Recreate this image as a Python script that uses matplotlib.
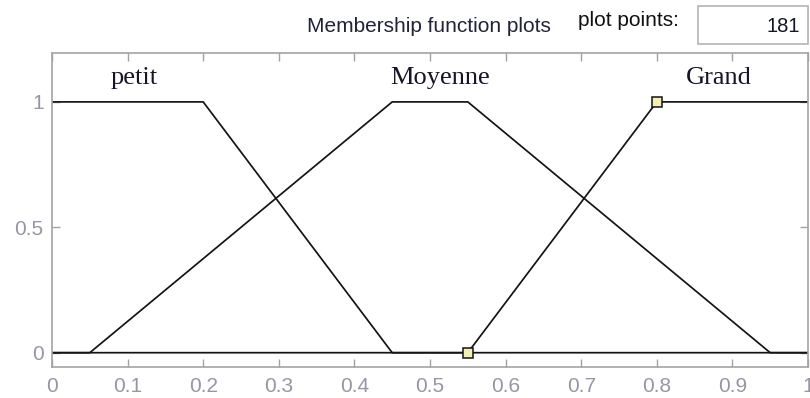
import matplotlib
matplotlib.use("Agg")
import matplotlib.pyplot as plt
from matplotlib.patches import Rectangle

# Membership functions (trapezoid vertices over the [0, 1] universe)
petit_x = [0.0, 0.2, 0.45, 1.0]
petit_y = [1.0, 1.0, 0.0, 0.0]
moyenne_x = [0.0, 0.05, 0.45, 0.55, 0.95, 1.0]
moyenne_y = [0.0, 0.0, 1.0, 1.0, 0.0, 0.0]
grand_x = [0.0, 0.55, 0.8, 1.0]
grand_y = [0.0, 0.0, 1.0, 1.0]

mf_names = ["petit", "Moyenne", "Grand"]
label_x = [0.108, 0.514, 0.882]
label_y = 1.095

# Handles of the selected function (Grand)
handle_x = [0.55, 0.8]
handle_y = [0.0, 1.0]

x_ticks = [0, 0.1, 0.2, 0.3, 0.4, 0.5, 0.6, 0.7, 0.8, 0.9, 1]
x_tick_labels = ["0", "0.1", "0.2", "0.3", "0.4", "0.5", "0.6", "0.7", "0.8", "0.9", "1"]
y_ticks = [0, 0.5, 1]
y_tick_labels = ["0", "0.5", "1"]
plot_points = "181"

sans = ["Liberation Sans", "DejaVu Sans"]
serif = ["Liberation Serif", "DejaVu Serif"]
tick_color = "#9696a6"
frame_color = "#a3a3a3"

fig = plt.figure(figsize=(8.10, 3.98), dpi=100, facecolor="white")
ax = fig.add_axes([52 / 810, 1 - 367 / 398, 756 / 810, 314 / 398])

line_kw = dict(color="#141414", lw=1.25, solid_joinstyle="miter")
ax.plot(petit_x, petit_y, **line_kw)
ax.plot(moyenne_x, moyenne_y, **line_kw)
ax.plot(grand_x, grand_y, **line_kw)
ax.plot(handle_x, handle_y, ls="none", marker="s", ms=7, mfc="#f4efb4",
        mec="#141414", mew=1.1, zorder=5)

for name, lx in zip(mf_names, label_x):
    ax.text(lx, label_y, name, family=serif, fontsize=19, color="#15152a",
            ha="center", va="center")

ax.set_xlim(0, 1)
ax.set_ylim(-0.057, 1.195)
ax.set_xticks(x_ticks)
ax.set_xticklabels(x_tick_labels)
ax.set_yticks(y_ticks)
ax.set_yticklabels(y_tick_labels)
ax.tick_params(axis="both", direction="in", length=5.5, width=1.0, color=frame_color,
               labelcolor=tick_color, labelsize=15)
ax.tick_params(axis="x", top=True, pad=7)
ax.tick_params(axis="y", right=True, pad=6)
for lab in ax.get_xticklabels() + ax.get_yticklabels():
    lab.set_family(sans)
for sp in ax.spines.values():
    sp.set_color(frame_color)
    sp.set_linewidth(1.2)

# Header: title and plot-points box
fig.text(429 / 810, 1 - 26 / 398, "Membership function plots", family=sans,
         fontsize=15, color="#22223a", ha="center", va="center")
fig.text(628 / 810, 1 - 21 / 398, "plot points:", family=sans,
         fontsize=15, color="#111111", ha="center", va="center")
box = Rectangle((698 / 810, 1 - 44 / 398), 110 / 810, 38 / 398,
                transform=fig.transFigure, facecolor="white",
                edgecolor="#b4b4b4", lw=1.2)
fig.add_artist(box)
fig.text(800 / 810, 1 - 26 / 398, plot_points, family=sans, fontsize=14.5,
         color="#151528", ha="right", va="center")

fig.savefig("out.png", dpi=100, facecolor="white")
